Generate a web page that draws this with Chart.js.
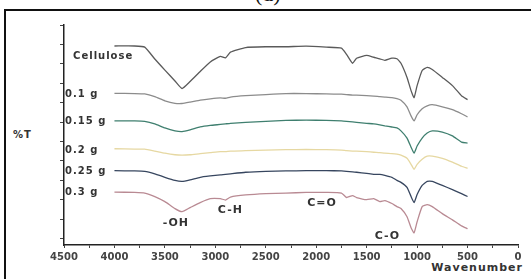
<!DOCTYPE html>
<html>
<head>
<meta charset="utf-8">
<script src="https://cdn.jsdelivr.net/npm/chart.js@4"></script>
<style>
  html, body { margin: 0; padding: 0; background: #fff; }
  #wrap { position: relative; width: 531px; height: 279px; overflow: hidden; }
  #frame { position: absolute; left: 4px; top: 9px; width: 600px; height: 400px;
           border-left: 2px solid #111; border-top: 2px solid #111; }
  #panel { position: absolute; left: 255px; top: -19px; font: 22px "Liberation Serif"; color: #111; }
  #ylab { position: absolute; left: 13px; top: 129px; font: bold 10px "DejaVu Sans"; color: #333; letter-spacing: 1px; }
  #xlab { position: absolute; right: 8px; top: 261px; font: bold 11px/13px "DejaVu Sans"; color: #333; letter-spacing: 1px; }
  canvas { position: absolute; left: 0; top: 0; }
</style>
</head>
<body>
<div id="wrap">
  <div id="frame"></div>
  <div id="panel">(d)</div>
  <div id="ylab">%T</div>
  <div id="xlab">Wavenumber</div>
  <canvas id="ftir" width="531" height="279"></canvas>
</div>
<script>
const wavenumbers = [4000, 3800, 3700, 3600, 3500, 3400, 3330, 3250, 3150, 3050, 2950, 2900, 2850, 2700, 2500,
  2300, 2100, 1900, 1750, 1700, 1640, 1600, 1500, 1430, 1370, 1320, 1250, 1200, 1160, 1100, 1060, 1030,
  1000, 950, 900, 850, 750, 650, 560, 500];

const cellulose = [9.92, 9.92, 9.86, 9.25, 8.68, 8.12, 7.73, 8.09, 8.61, 9.10, 9.39, 9.31, 9.60, 9.84, 9.88,
  9.88, 9.91, 9.86, 9.81, 9.49, 9.03, 9.29, 9.44, 9.34, 9.26, 9.18, 9.29, 9.26, 9.03, 8.30, 7.62, 7.26,
  7.88, 8.66, 8.82, 8.71, 8.30, 7.88, 7.36, 7.16];
const g01 = [7.48, 7.47, 7.45, 7.31, 7.10, 6.97, 6.96, 7.03, 7.13, 7.20, 7.25, 7.23, 7.29, 7.36, 7.42,
  7.47, 7.47, 7.45, 7.44, 7.42, 7.39, 7.39, 7.36, 7.34, 7.31, 7.29, 7.26, 7.21, 7.13, 6.79, 6.32, 6.06,
  6.38, 6.69, 6.84, 6.90, 6.79, 6.64, 6.43, 6.27];
const g015 = [6.06, 6.06, 6.04, 5.91, 5.70, 5.55, 5.51, 5.60, 5.75, 5.83, 5.88, 5.91, 5.94, 5.99, 6.04,
  6.09, 6.10, 6.09, 6.06, 6.04, 6.01, 5.99, 5.94, 5.91, 5.86, 5.81, 5.75, 5.70, 5.55, 5.18, 4.71, 4.40,
  4.77, 5.18, 5.44, 5.55, 5.49, 5.29, 4.97, 4.92];
const g02 = [4.63, 4.61, 4.61, 4.51, 4.40, 4.32, 4.30, 4.32, 4.38, 4.43, 4.48, 4.48, 4.51, 4.53, 4.56,
  4.58, 4.59, 4.58, 4.56, 4.53, 4.51, 4.51, 4.48, 4.45, 4.43, 4.40, 4.38, 4.35, 4.30, 4.14, 3.83, 3.57,
  3.83, 4.09, 4.25, 4.25, 4.14, 3.94, 3.73, 3.62];
const g025 = [3.50, 3.49, 3.47, 3.34, 3.16, 3.00, 2.95, 3.03, 3.16, 3.23, 3.29, 3.31, 3.34, 3.42, 3.47,
  3.49, 3.50, 3.50, 3.49, 3.47, 3.44, 3.42, 3.36, 3.31, 3.31, 3.26, 3.16, 3.00, 2.90, 2.64, 2.17, 1.86,
  2.27, 2.74, 2.95, 2.95, 2.74, 2.53, 2.32, 2.17];
const g03 = [2.40, 2.38, 2.35, 2.17, 1.91, 1.55, 1.39, 1.60, 1.86, 2.06, 2.06, 1.99, 2.14, 2.25, 2.32,
  2.35, 2.38, 2.38, 2.35, 2.12, 2.22, 2.12, 2.01, 2.06, 1.91, 1.96, 1.81, 1.65, 1.55, 1.13, 0.56, 0.30,
  0.87, 1.65, 1.75, 1.65, 1.29, 0.97, 0.66, 0.51];

const seriesNames = ["Cellulose", "0.1 g", "0.15 g", "0.2 g", "0.25 g", "0.3 g"];
const seriesColors = ["#5a5a5a", "#8c8c8c", "#3f7f6f", "#e6d8a2", "#37465f", "#b98a93"];
const seriesValues = [cellulose, g01, g015, g02, g025, g03];

// posición de las etiquetas (en unidades de los ejes)
const nameLabelX = [4410, 4490, 4490, 4490, 4490, 4490];
const nameLabelY = [9.39, 7.42, 6.06, 4.56, 3.47, 2.38];

const bandLabels = ["-OH", "C-H", "C=O", "C-O"];
const bandLabelX = [3520, 2975, 2090, 1420];
const bandLabelY = [0.82, 1.49, 1.81, 0.14];

const xTickValues = [0, 250, 500, 750, 1000, 1250, 1500, 1750, 2000, 2250, 2500, 2750, 3000, 3250, 3500,
  3750, 4000, 4250, 4500];
const yTickValues = [0, 1, 2, 3, 4, 5, 6, 7, 8, 9, 10, 11];

const spacing = {
  id: "spacing",
  beforeInit(chart) {
    chart.ctx.letterSpacing = "1px";
  }
};

const textLabels = {
  id: "textLabels",
  afterDatasetsDraw(chart) {
    const ctx = chart.ctx;
    const xs = chart.scales.x;
    const ys = chart.scales.y;
    ctx.save();
    ctx.letterSpacing = "1px";
    ctx.fillStyle = "#333";
    ctx.textBaseline = "middle";
    ctx.textAlign = "left";
    ctx.font = "bold 10px 'DejaVu Sans'";
    seriesNames.forEach((name, i) => {
      ctx.fillText(name, xs.getPixelForValue(nameLabelX[i]), ys.getPixelForValue(nameLabelY[i]));
    });
    ctx.font = "bold 11px 'DejaVu Sans'";
    bandLabels.forEach((name, i) => {
      ctx.fillText(name, xs.getPixelForValue(bandLabelX[i]), ys.getPixelForValue(bandLabelY[i]));
    });
    ctx.restore();
  }
};

new Chart(document.getElementById("ftir"), {
  type: "line",
  data: {
    datasets: seriesValues.map((vals, i) => ({
      label: seriesNames[i],
      data: wavenumbers.map((w, j) => ({ x: w, y: vals[j] })),
      borderColor: seriesColors[i],
      borderWidth: 1.3,
      pointRadius: 0,
      tension: 0.15,
      fill: false
    }))
  },
  options: {
    responsive: false,
    animation: false,
    events: [],
    layout: { padding: { left: 60, top: 25, right: 13, bottom: 13 } },
    plugins: { legend: { display: false }, tooltip: { enabled: false } },
    scales: {
      x: {
        type: "linear",
        reverse: true,
        min: 0,
        max: 4500,
        afterBuildTicks: (scale) => { scale.ticks = xTickValues.map((v) => ({ value: v })); },
        ticks: {
          autoSkip: false,
          maxRotation: 0,
          padding: 3,
          color: "#444",
          font: { family: "'DejaVu Sans'", size: 10, weight: "bold" },
          callback: (v) => (v % 500 === 0 ? String(v) : "")
        },
        grid: { drawOnChartArea: false, tickLength: 3, color: "#444" },
        border: { color: "#222", width: 1.5 }
      },
      y: {
        min: -0.325,
        max: 11,
        afterBuildTicks: (scale) => { scale.ticks = yTickValues.map((v) => ({ value: v })); },
        ticks: { display: false },
        grid: { drawOnChartArea: false, tickLength: 4, color: "#444" },
        border: { color: "#222", width: 1.5 }
      }
    }
  },
  plugins: [spacing, textLabels]
});
</script>
</body>
</html>
